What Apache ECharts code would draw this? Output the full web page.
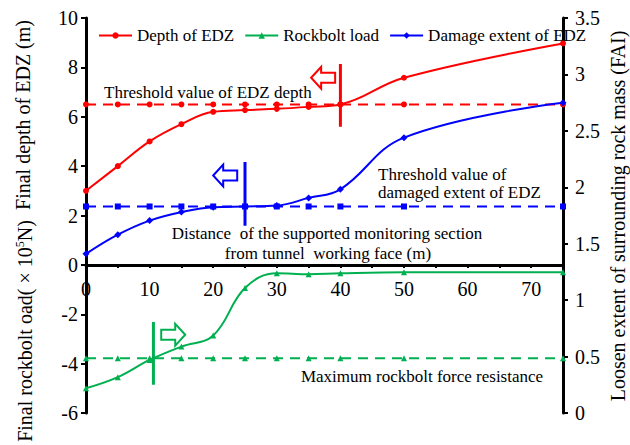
<!DOCTYPE html>
<html>
<head>
<meta charset="utf-8">
<script src="https://cdn.jsdelivr.net/npm/echarts@6/dist/echarts.min.js"></script>
<style>
  html, body { margin: 0; padding: 0; background: #fff; }
  #chart { width: 630px; height: 445px; }
</style>
</head>
<body>
<div id="chart"></div>
<script>
// Distance of the monitoring section from the working face (m)
const distance = [0, 5, 10, 15, 20, 25, 30, 35, 40, 50, 75];
// Final depth of EDZ (m), left axis
const edzDepth = [3.0, 4.0, 5.0, 5.7, 6.2, 6.27, 6.32, 6.4, 6.5, 7.58, 8.97];
// Final rockbolt load (x10^5 N), left axis
const rockboltLoad = [-5.0, -4.55, -3.85, -3.31, -2.86, -0.94, -0.34, -0.38, -0.34, -0.30, -0.30];
// Damage extent of EDZ (FAI), right axis
const damageExtent = [1.41, 1.58, 1.705, 1.78, 1.824, 1.83, 1.838, 1.906, 1.982, 2.44, 2.75];

// Threshold levels
const edzDepthThreshold = 6.5;       // left axis
const damageThreshold = 1.83;        // right axis
const rockboltResistance = -3.78;    // left axis

// Vertical cursor lines [x, yTop, yBottom] on the left axis
const edzCursor = [40, 8.14, 5.59];
const damageCursor = [25, 4.17, 1.58];
const rockboltCursor = [10.6, -2.31, -4.86];

// Direction arrows: tip position in data units (left axis), dir -1 = left, 1 = right
const arrows = [
  { x: 35.4, y: 7.58, dir: -1, color: '#ff0000' },
  { x: 20.0, y: 3.62, dir: -1, color: '#0000ff' },
  { x: 15.6, y: -2.83, dir: 1, color: '#00b050' }
];

const xTicks = [0, 10, 20, 30, 40, 50, 60, 70];

const RED = '#ff0000', GREEN = '#00b050', BLUE = '#0000ff';
const FONT = 'Liberation Serif';

const pairs = (ys) => distance.map((x, i) => [x, ys[i]]);
const level = (v) => distance.map((x) => [x, v]);
const cursor = (c) => [[c[0], c[1]], [c[0], c[2]]];

const GRID = { left: 86, right: 67, top: 18, bottom: 32 };
const LEFT_MIN = -6, LEFT_MAX = 10;
// The distance axis sits on the zero line of the left axis
const plotH = 445 - GRID.top - GRID.bottom;
const xAxisOffset = -plotH * (0 - LEFT_MIN) / (LEFT_MAX - LEFT_MIN);

const chart = echarts.init(document.getElementById('chart'), null, { renderer: 'svg' });

const axisText = { fontSize: 20, fontFamily: FONT, color: '#000' };

const option = {
  animation: false,
  backgroundColor: '#fff',
  grid: Object.assign({ containLabel: false }, GRID),
  legend: {
    data: ['Depth of EDZ', 'Rockbolt load', 'Damage extent of EDZ'],
    left: 93, top: 22,
    itemWidth: 33, itemHeight: 8, itemGap: 10,
    textStyle: { fontSize: 17, fontFamily: FONT, color: '#000' }
  },
  xAxis: {
    type: 'value', min: 0, max: 75, interval: 5, position: 'bottom', offset: xAxisOffset,
    axisLine: { onZero: false, lineStyle: { color: '#000', width: 3 } },
    axisTick: { show: true, inside: false, length: 3, lineStyle: { color: '#000', width: 2 } },
    axisLabel: Object.assign({
      margin: 14,
      formatter: (v) => (xTicks.indexOf(v) >= 0 ? String(v) : '')
    }, axisText),
    splitLine: { show: false }
  },
  yAxis: [
    {
      type: 'value', min: LEFT_MIN, max: LEFT_MAX, interval: 2, position: 'left',
      axisLine: { show: true, onZero: false, lineStyle: { color: '#000', width: 3 } },
      axisTick: { show: true, inside: false, length: 5, lineStyle: { color: '#000', width: 2 } },
      axisLabel: Object.assign({ margin: 8 }, axisText),
      splitLine: { show: false }
    },
    {
      type: 'value', min: 0, max: 3.5, interval: 0.5, position: 'right',
      axisLine: { show: true, onZero: false, lineStyle: { color: '#000', width: 3 } },
      axisTick: { show: true, inside: false, length: 5, lineStyle: { color: '#000', width: 2 } },
      axisLabel: Object.assign({ margin: 12 }, axisText),
      splitLine: { show: false }
    }
  ],
  series: [
    {
      name: 'Depth of EDZ', type: 'line', yAxisIndex: 0, data: pairs(edzDepth),
      smooth: 0.4, symbol: 'circle', symbolSize: 6,
      itemStyle: { color: RED }, lineStyle: { color: RED, width: 2 }, z: 5
    },
    {
      name: 'Rockbolt load', type: 'line', yAxisIndex: 0, data: pairs(rockboltLoad),
      smooth: 0.4, symbol: 'triangle', symbolSize: 6,
      itemStyle: { color: GREEN }, lineStyle: { color: GREEN, width: 2 }, z: 5
    },
    {
      name: 'Damage extent of EDZ', type: 'line', yAxisIndex: 1, data: pairs(damageExtent),
      smooth: 0.4, symbol: 'diamond', symbolSize: 7,
      itemStyle: { color: BLUE }, lineStyle: { color: BLUE, width: 2 }, z: 5
    },
    {
      name: 'EDZ depth threshold', type: 'line', yAxisIndex: 0, data: level(edzDepthThreshold),
      symbol: 'circle', symbolSize: 6,
      itemStyle: { color: RED }, lineStyle: { color: RED, width: 2, type: [10, 7] }, z: 4
    },
    {
      name: 'Damage threshold', type: 'line', yAxisIndex: 1, data: level(damageThreshold),
      symbol: 'rect', symbolSize: 6,
      itemStyle: { color: BLUE }, lineStyle: { color: BLUE, width: 2, type: [10, 7] }, z: 4
    },
    {
      name: 'Rockbolt resistance', type: 'line', yAxisIndex: 0, data: level(rockboltResistance),
      symbol: 'triangle', symbolSize: 6,
      itemStyle: { color: GREEN }, lineStyle: { color: GREEN, width: 2, type: [10, 7] }, z: 4
    },
    {
      name: 'EDZ cursor', type: 'line', yAxisIndex: 0, data: cursor(edzCursor),
      symbol: 'none', lineStyle: { color: RED, width: 3 }, z: 6
    },
    {
      name: 'Damage cursor', type: 'line', yAxisIndex: 0, data: cursor(damageCursor),
      symbol: 'none', lineStyle: { color: BLUE, width: 3 }, z: 6
    },
    {
      name: 'Rockbolt cursor', type: 'line', yAxisIndex: 0, data: cursor(rockboltCursor),
      symbol: 'none', lineStyle: { color: GREEN, width: 3 }, z: 6
    }
  ]
};

chart.setOption(option);

// Block arrows drawn as outlined polygons anchored at their tips
function arrowShape(tip, dir) {
  const len = 24, head = 10, headHalf = 11, bodyHalf = 5;
  const [tx, ty] = tip;
  const bx = tx - dir * head, ex = tx - dir * len;
  return [
    [tx, ty], [bx, ty - headHalf], [bx, ty - bodyHalf], [ex, ty - bodyHalf],
    [ex, ty + bodyHalf], [bx, ty + bodyHalf], [bx, ty + headHalf]
  ];
}

const labelStyle = { fontSize: 17, fontFamily: FONT, fill: '#000' };
const nameStyle = { fontSize: 20, fontFamily: FONT, fill: '#000' };

const graphics = arrows.map((a) => ({
  type: 'polygon',
  shape: { points: arrowShape(chart.convertToPixel({ xAxisIndex: 0, yAxisIndex: 0 }, [a.x, a.y]), a.dir) },
  style: { fill: '#fff', stroke: a.color, lineWidth: 2 },
  z: 10
}));

graphics.push(
  { type: 'text', x: 104, y: 92, style: Object.assign({ text: 'Threshold value of EDZ depth', verticalAlign: 'middle' }, labelStyle), z: 10 },
  { type: 'text', x: 378, y: 174, style: Object.assign({ text: 'Threshold value of', verticalAlign: 'middle' }, labelStyle), z: 10 },
  { type: 'text', x: 378, y: 192, style: Object.assign({ text: 'damaged extent of EDZ', verticalAlign: 'middle' }, labelStyle), z: 10 },
  { type: 'text', x: 327, y: 233, style: Object.assign({ text: 'Distance  of the supported monitoring section', align: 'center', verticalAlign: 'middle' }, labelStyle), z: 10 },
  { type: 'text', x: 328, y: 253, style: Object.assign({ text: 'from tunnel  working face (m)', align: 'center', verticalAlign: 'middle' }, labelStyle), z: 10 },
  { type: 'text', x: 422, y: 376, style: Object.assign({ text: 'Maximum rockbolt force resistance', align: 'center', verticalAlign: 'middle' }, labelStyle), z: 10 },
  // Axis titles
  { type: 'text', x: 23, y: 115, rotation: Math.PI / 2,
    style: Object.assign({ text: 'Final depth of EDZ (m)', align: 'center', verticalAlign: 'middle' }, nameStyle) },
  { type: 'text', x: 24, y: 331, rotation: Math.PI / 2,
    style: Object.assign({
      text: '{a|Final rockbolt oad( × 10}{s|5}{a|N)}', align: 'center', verticalAlign: 'middle',
      rich: {
        a: { fontSize: 20, fontFamily: FONT, fill: '#000', lineHeight: 21, verticalAlign: 'bottom' },
        s: { fontSize: 12, fontFamily: FONT, fill: '#000', lineHeight: 21, verticalAlign: 'top' }
      }
    }, nameStyle) },
  { type: 'text', x: 618, y: 216, rotation: Math.PI / 2,
    style: Object.assign({ text: 'Loosen extent of surrounding rock mass (FAI)', align: 'center', verticalAlign: 'middle' }, nameStyle) }
);

chart.setOption({ graphic: graphics });
</script>
</body>
</html>
